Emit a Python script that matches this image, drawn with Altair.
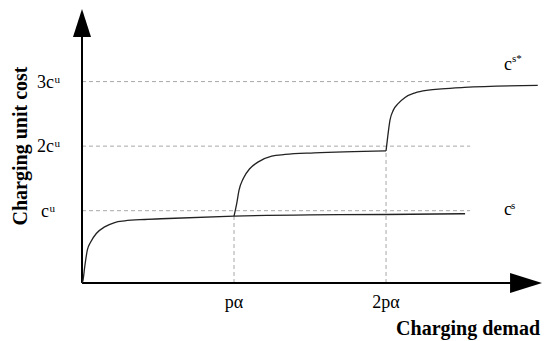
import altair as alt
import pandas as pd

# ---- data (x in units of p·alpha, y in units of c^u) ----
cs_x = [0.0, 0.0066, 0.0178, 0.0349, 0.0572, 0.094, 0.149, 0.215, 0.281, 0.4125, 0.566, 1.0, 1.5, 1.993, 2.52]
cs_y = [-0.12, -0.078, 0.129, 0.388, 0.516, 0.647, 0.749, 0.817, 0.842, 0.864, 0.879, 0.915, 0.935, 0.941, 0.953]

jump1_x = [1.0, 1.018, 1.033, 1.061, 1.105, 1.160, 1.248, 1.336, 1.528, 2.0]
jump1_y = [0.915, 1.112, 1.318, 1.499, 1.654, 1.757, 1.845, 1.871, 1.896, 1.926]

jump2_x = [2.0, 2.011, 2.026, 2.048, 2.081, 2.125, 2.191, 2.278, 2.366, 2.515, 2.998]
jump2_y = [1.926, 2.144, 2.403, 2.558, 2.662, 2.755, 2.826, 2.868, 2.888, 2.910, 2.941]

y_tick_values = [1, 2, 3]
y_tick_base = ["c", "2c", "3c"]
y_tick_sup = ["u", "u", "u"]
x_tick_values = [1, 2]
x_tick_labels = ["pα", "2pα"]
drop_tops = [0.915, 1.926]

X_MAX = 3.026
Y_MIN, Y_MAX = -0.12, 4.14
FONT = "Liberation Serif"

xs = alt.Scale(domain=[0, X_MAX], nice=False, zero=False)
ys = alt.Scale(domain=[Y_MIN, Y_MAX], nice=False, zero=False)

rows = []
for i, (xx, yy) in enumerate(zip(cs_x, cs_y)):
    rows.append({"x": xx, "y": yy, "seg": "a", "o": i})
for i, (xx, yy) in enumerate(zip(jump1_x, jump1_y)):
    rows.append({"x": xx, "y": yy, "seg": "b", "o": i})
for i, (xx, yy) in enumerate(zip(jump2_x, jump2_y)):
    rows.append({"x": xx, "y": yy, "seg": "c", "o": i})
curves = pd.DataFrame(rows)

curve_layer = alt.Chart(curves).mark_line(
    color="#222222", strokeWidth=1.3, interpolate="monotone", clip=False
).encode(
    x=alt.X("x:Q", scale=xs, axis=None),
    y=alt.Y("y:Q", scale=ys, axis=None),
    detail="seg:N",
    order="o:Q",
)

grid_df = pd.DataFrame({"y": y_tick_values, "x0": [0] * 3, "x1": [2.553] * 3})
grid = alt.Chart(grid_df).mark_rule(
    color="#a8a8a8", strokeWidth=1, strokeDash=[4, 3]
).encode(
    x=alt.X("x0:Q", scale=xs, axis=None), x2="x1:Q",
    y=alt.Y("y:Q", scale=ys, axis=None),
)

drop_df = pd.DataFrame({"x": x_tick_values, "y0": [Y_MIN] * 2, "y1": drop_tops})
drops = alt.Chart(drop_df).mark_rule(
    color="#a8a8a8", strokeWidth=1, strokeDash=[4, 3]
).encode(
    x=alt.X("x:Q", scale=xs, axis=None),
    y=alt.Y("y0:Q", scale=ys, axis=None), y2="y1:Q",
)

# axes lines with arrowheads
axis_df = pd.DataFrame({
    "x0": [0.0, 0.0], "x1": [0.0, 2.90],
    "y0": [Y_MIN, Y_MIN], "y1": [3.85, Y_MIN],
})
axes = alt.Chart(axis_df).mark_rule(color="black", strokeWidth=2).encode(
    x=alt.X("x0:Q", scale=xs, axis=None), x2="x1:Q",
    y=alt.Y("y0:Q", scale=ys, axis=None), y2="y1:Q",
)
up_arrow = alt.Chart(pd.DataFrame({"x": [0.0], "y": [3.907]})).mark_point(
    shape="M0,-1L0.643,1L-0.643,1Z", size=784, filled=True, color="black", opacity=1, strokeWidth=0
).encode(x=alt.X("x:Q", scale=xs, axis=None), y=alt.Y("y:Q", scale=ys, axis=None))
right_arrow = alt.Chart(pd.DataFrame({"x": [2.921], "y": [Y_MIN]})).mark_point(
    shape="M1,0L-1,0.625L-1,-0.625Z", size=1024, filled=True, color="black", opacity=1, strokeWidth=0
).encode(x=alt.X("x:Q", scale=xs, axis=None), y=alt.Y("y:Q", scale=ys, axis=None))

# y tick labels (base + superscript)
ytl = pd.DataFrame({
    "y": y_tick_values, "base": y_tick_base, "sup": y_tick_sup,
    "px": [-33, -28, -28],
})
ytick_base = alt.Chart(ytl).mark_text(
    font=FONT, fontSize=18, align="right", baseline="alphabetic", dy=6, color="black"
).encode(x=alt.X("px:Q", scale=None), y=alt.Y("y:Q", scale=ys, axis=None), text="base:N")
ytick_sup = alt.Chart(ytl).mark_text(
    font=FONT, fontSize=11, align="left", baseline="alphabetic", dy=1, dx=0.5, color="black"
).encode(x=alt.X("px:Q", scale=None), y=alt.Y("y:Q", scale=ys, axis=None), text="sup:N")

xtl = pd.DataFrame({"x": x_tick_values, "t": x_tick_labels})
xticks = alt.Chart(xtl).mark_text(
    font=FONT, fontSize=18, align="center", baseline="alphabetic", color="black"
).encode(x=alt.X("x:Q", scale=xs, axis=None), y=alt.value(300), text="t:N")

def txt(s, px, py, size, weight="normal", align="left", angle=0, baseline="alphabetic"):
    return alt.Chart(pd.DataFrame({"t": [s]})).mark_text(
        font=FONT, fontSize=size, fontWeight=weight, align=align, angle=angle,
        baseline=baseline, color="black"
    ).encode(x=alt.value(px), y=alt.value(py), text="t:N")

labels = [
    txt("c", 422, 207, 18),
    txt("s", 429, 201, 11),
    txt("c", 422, 62, 18),
    txt("s*", 430, 54, 11),
    txt("Charging demad", 458, 327, 20, weight="bold", align="right"),
    txt("Charging unit cost", -61, 138, 20, weight="bold", align="center", angle=270, baseline="middle"),
]

chart = alt.layer(
    grid, drops, axes, up_arrow, right_arrow, curve_layer,
    ytick_base, ytick_sup, xticks, *labels
).properties(
    width=460, height=275,
    autosize=alt.AutoSizeParams(type="none"),
    padding={"left": 74, "top": 0, "right": 0, "bottom": 58},
    background="white",
).configure_view(stroke=None)

chart.save("out.html", embed_options={"renderer": "svg", "actions": False})
